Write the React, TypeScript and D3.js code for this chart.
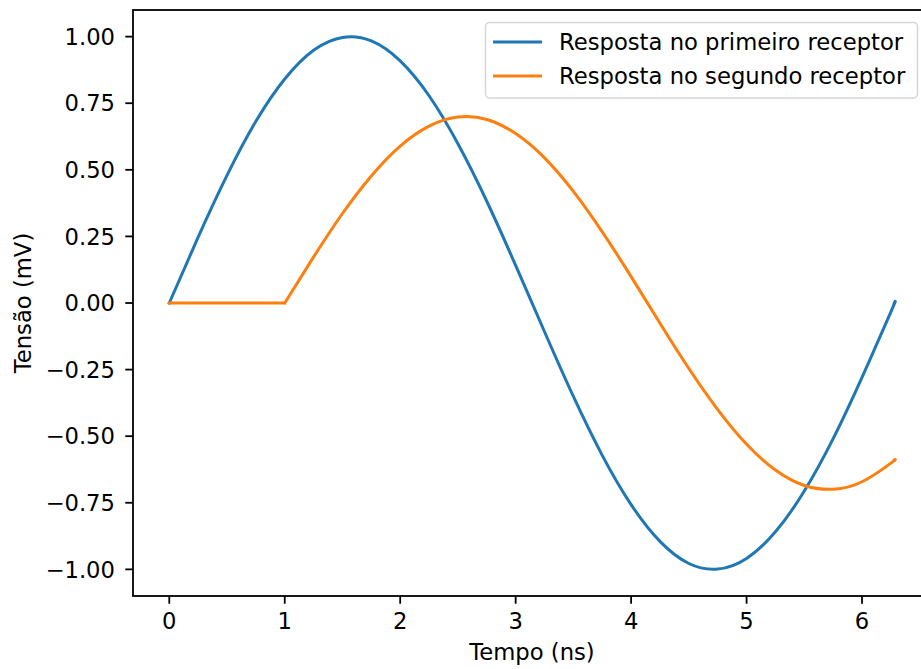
import React, { useRef, useEffect } from 'react';
import * as d3 from 'd3';

// time samples (ns)
const tempo = [0, 0.25, 0.5, 0.75, 1.0, 1.25, 1.5, 1.75, 2.0, 2.25, 2.5, 2.75, 3.0, 3.25, 3.5,
  3.75, 4.0, 4.25, 4.5, 4.75, 5.0, 5.25, 5.5, 5.75, 6.0, 6.25, 6.28];

// first receiver (mV)
const primeiro = [0, 0.247, 0.479, 0.682, 0.841, 0.949, 0.997, 0.984, 0.909, 0.778, 0.598, 0.382,
  0.141, -0.108, -0.351, -0.572, -0.757, -0.895, -0.978, -0.999, -0.959, -0.859, -0.706, -0.509,
  -0.279, -0.033, 0.0];

// second receiver (mV)
const segundo = [0, 0, 0, 0, 0, 0.173, 0.336, 0.477, 0.589, 0.664, 0.698, 0.689, 0.636, 0.545,
  0.419, 0.267, 0.099, -0.076, -0.246, -0.4, -0.53, -0.627, -0.685, -0.699, -0.671, -0.601, -0.589];

const xTicks = [0, 1, 2, 3, 4, 5, 6];
const yTicks = [-1.0, -0.75, -0.5, -0.25, 0.0, 0.25, 0.5, 0.75, 1.0];
const legendLabels = ['Resposta no primeiro receptor', 'Resposta no segundo receptor'];
const colors = ['#1f77b4', '#ff7f0e'];

const App = () => {
  const ref = useRef<SVGSVGElement>(null);

  const width = 921, height = 669;
  const margin = { top: 10, right: -10, bottom: 73, left: 133 };
  const font = "'DejaVu Sans', sans-serif";
  const fs = 22.7;

  useEffect(() => {
    const svg = d3.select(ref.current);
    svg.selectAll('*').remove();

    const x = d3.scaleLinear()
      .domain([-0.3142, 6.5973])
      .range([margin.left, width - margin.right]);
    const y = d3.scaleLinear()
      .domain([-1.1, 1.1])
      .range([height - margin.bottom, margin.top]);

    const g = svg.append('g');

    // lines
    const line = d3.line<[number, number]>()
      .x(d => x(d[0]))
      .y(d => y(d[1]));
    const smooth = d3.line<[number, number]>()
      .x(d => x(d[0]))
      .y(d => y(d[1]))
      .curve(d3.curveNatural);

    const p1 = tempo.map((t, i) => [t, primeiro[i]] as [number, number]);
    const p2 = tempo.map((t, i) => [t, segundo[i]] as [number, number]);
    const flat = p2.filter(d => d[0] <= 1);
    const rest = p2.filter(d => d[0] >= 1);

    g.append('path')
      .attr('d', smooth(p1))
      .attr('fill', 'none')
      .attr('stroke', colors[0])
      .attr('stroke-width', 3)
      .attr('stroke-linecap', 'square');

    g.append('path')
      .attr('d', line(flat)! + smooth(rest)!)
      .attr('fill', 'none')
      .attr('stroke', colors[1])
      .attr('stroke-width', 3)
      .attr('stroke-linecap', 'square');

    // spines
    const [x0, x1] = x.range();
    const [y0, y1] = y.range();
    g.append('rect')
      .attr('x', x0).attr('y', y1)
      .attr('width', x1 - x0).attr('height', y0 - y1)
      .attr('fill', 'none')
      .attr('stroke', '#000')
      .attr('stroke-width', 1.8);

    // x ticks
    const xt = g.selectAll('.xt').data(xTicks).enter().append('g')
      .attr('transform', d => 'translate(' + x(d) + ',' + y0 + ')');
    xt.append('line').attr('y2', 7.7).attr('stroke', '#000').attr('stroke-width', 1.8);
    xt.append('text')
      .attr('y', 33)
      .attr('text-anchor', 'middle')
      .attr('font-family', font).attr('font-size', fs)
      .text(d => d);

    // y ticks
    const yt = g.selectAll('.yt').data(yTicks).enter().append('g')
      .attr('transform', d => 'translate(' + x0 + ',' + y(d) + ')');
    yt.append('line').attr('x2', -7.7).attr('stroke', '#000').attr('stroke-width', 1.8);
    yt.append('text')
      .attr('x', -18)
      .attr('dy', '0.36em')
      .attr('text-anchor', 'end')
      .attr('font-family', font).attr('font-size', fs)
      .text(d => d3.format('.2f')(d).replace('-', '\u2212'));

    // axis labels
    g.append('text')
      .attr('x', (x0 + x1) / 2).attr('y', 660)
      .attr('text-anchor', 'middle')
      .attr('font-family', font).attr('font-size', fs)
      .text('Tempo (ns)');
    g.append('text')
      .attr('transform', 'translate(31,' + (y0 + y1) / 2 + ') rotate(-90)')
      .attr('text-anchor', 'middle')
      .attr('font-family', font).attr('font-size', fs)
      .text('Tensão (mV)');

    // legend
    const leg = g.append('g');
    leg.append('rect')
      .attr('x', 485.5).attr('y', 22.5)
      .attr('width', 432).attr('height', 75.5)
      .attr('rx', 4)
      .attr('fill', 'rgba(255,255,255,0.8)')
      .attr('stroke', '#d6d6d6')
      .attr('stroke-width', 1.5);
    legendLabels.forEach((lab, i) => {
      const cy = 42 + i * 34;
      leg.append('line')
        .attr('x1', 493).attr('x2', 542)
        .attr('y1', cy).attr('y2', cy)
        .attr('stroke', colors[i]).attr('stroke-width', 3);
      leg.append('text')
        .attr('x', 559).attr('y', cy)
        .attr('dy', '0.36em')
        .attr('font-family', font).attr('font-size', fs)
        .text(lab);
    });
  });

  return (
    <svg ref={ref} width={width} height={height}
      style={{ position: 'absolute', left: 0, top: 0, background: '#fff' }} />
  );
};

export default App;
